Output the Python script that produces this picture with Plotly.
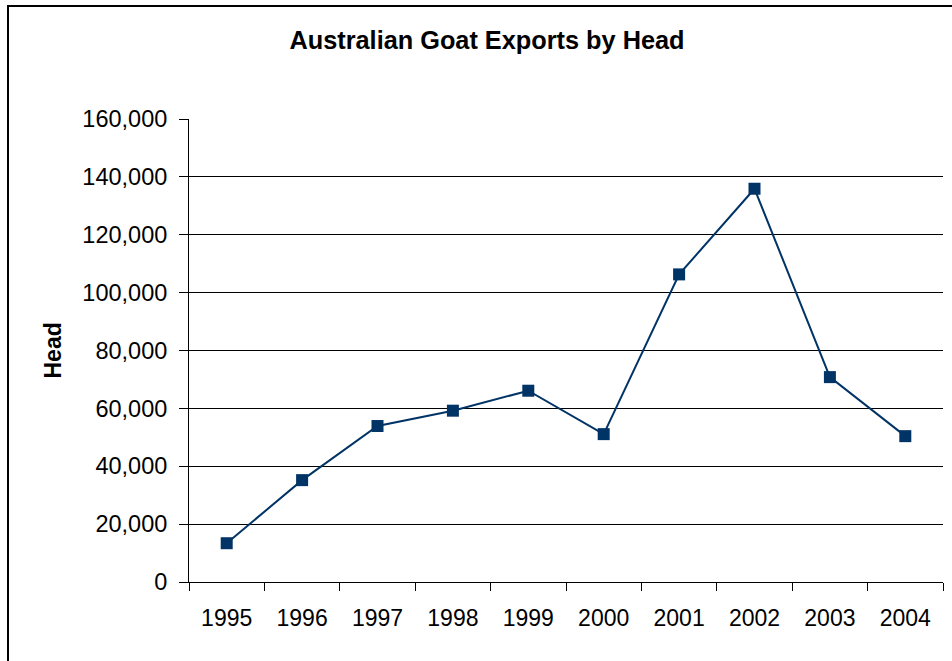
import plotly.graph_objects as go

years = ["1995", "1996", "1997", "1998", "1999", "2000", "2001", "2002", "2003", "2004"]
head = [13400, 35200, 53900, 59200, 66100, 51100, 106300, 135900, 70800, 50400]
y_ticks = [0, 20000, 40000, 60000, 80000, 100000, 120000, 140000, 160000]
grid_ticks = [20000, 40000, 60000, 80000, 100000, 120000, 140000]

FONT = "Liberation Sans, Arial, sans-serif"
W, H = 952, 661
L, R, T, B = 189, 9, 119, 79
pw, ph = W - L - R, H - T - B

fig = go.Figure()
# invisible trace anchoring the gridline axis
fig.add_trace(go.Scatter(x=years, y=head, yaxis="y2", mode="none",
                         showlegend=False, hoverinfo="skip"))
fig.add_trace(go.Scatter(
    x=years, y=head, mode="lines+markers",
    line=dict(color="#003366", width=2),
    marker=dict(symbol="square", size=12, color="#003366"),
    showlegend=False, hoverinfo="x+y",
))

fig.update_layout(
    width=W, height=H,
    margin=dict(l=L, r=R, t=T, b=B),
    paper_bgcolor="white", plot_bgcolor="white",
    font=dict(family=FONT, color="black"),
    title=dict(text="<b>Australian Goat Exports by Head</b>",
               font=dict(size=25.3, family=FONT, color="black"),
               x=487 / W, xanchor="center", xref="container",
               y=1 - 40 / H, yanchor="middle", yref="container"),
    xaxis=dict(type="category", range=[-0.5, 9.5], showgrid=False,
               showline=True, linecolor="black", linewidth=1,
               ticks="outside", tickson="boundaries", ticklen=8,
               tickcolor="black", tickwidth=1,
               tickfont=dict(size=23, family=FONT, color="black"),
               ticklabelstandoff=15, zeroline=False),
    yaxis=dict(range=[0, 160000], tickvals=y_ticks, tickformat=",",
               showgrid=False, zeroline=False,
               showline=True, linecolor="black", linewidth=1,
               ticks="outside", ticklen=9, tickcolor="black", tickwidth=1,
               tickfont=dict(size=23.5, family=FONT, color="black"),
               ticklabelstandoff=7),
    yaxis2=dict(range=[0, 160000], overlaying="y", side="left",
                tickvals=grid_ticks, showgrid=True, gridcolor="black",
                gridwidth=1, showticklabels=False, ticks="",
                zeroline=False, showline=False),
)

fig.add_annotation(text="<b>Head</b>", textangle=-90,
                   xref="paper", yref="paper",
                   x=(52 - L) / pw, y=0.5, xanchor="center", yanchor="middle",
                   showarrow=False, font=dict(size=23, family=FONT, color="black"))

# outer chart border (frame extends past the right and bottom edges)
fig.add_shape(type="rect", xref="paper", yref="paper",
              x0=(8 - L) / pw, x1=(W + 20 - L) / pw,
              y0=-(H + 20 - (T + ph)) / ph, y1=1 + (T - 6) / ph,
              line=dict(color="black", width=2), fillcolor="rgba(0,0,0,0)",
              layer="below")

fig.write_html("out.html", config={"displayModeBar": False},
               post_script="document.body.style.margin='0';")
